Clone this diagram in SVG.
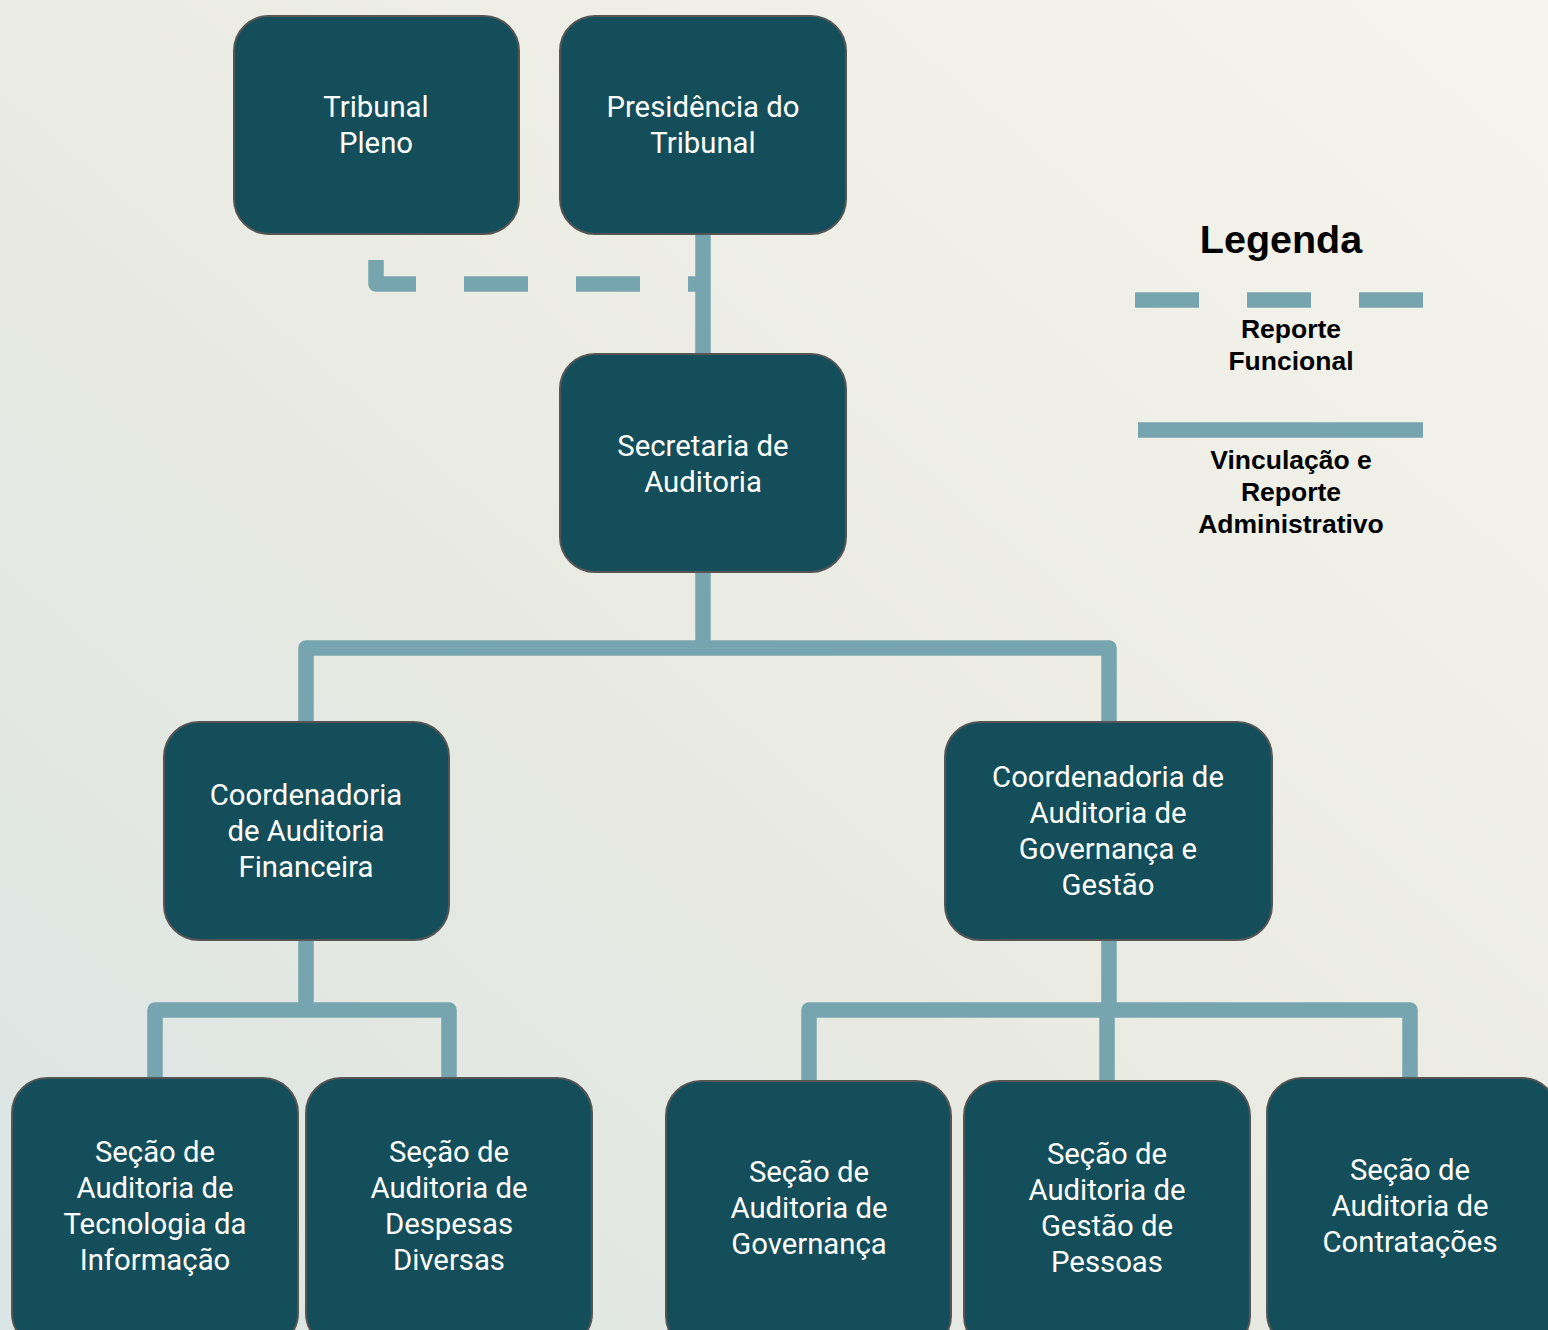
<svg xmlns="http://www.w3.org/2000/svg" width="1548" height="1330" viewBox="0 0 1548 1330">
<defs>
<linearGradient id="bg" x1="1" y1="0" x2="0" y2="1">
<stop offset="0" stop-color="#f5f5ee"/>
<stop offset="0.55" stop-color="#e9eae1"/>
<stop offset="1" stop-color="#dbe5e5"/>
</linearGradient>
<style>
.node{fill:#144e5a;stroke:#555;stroke-width:2}
.nt{font-family:Roboto,"Liberation Sans",sans-serif;font-size:29.3px;fill:#fff;text-anchor:middle}
.ln{fill:none;stroke:#76a5b0;stroke-width:15.5;stroke-linejoin:round;stroke-linecap:butt}
.dash{stroke-dasharray:64 48}
.lg{font-family:"Liberation Sans",Arial,sans-serif;font-weight:bold;fill:#000;text-anchor:middle}
</style>
</defs>
<rect width="1548" height="1330" fill="url(#bg)"/>
<g id="connectors">
<path class="ln dash" d="M376 260 V284 H703"/>
<path class="ln" d="M703 234 V354"/>
<path class="ln" d="M703 572 V648"/>
<path class="ln" d="M306 722 V648 H1109 V722"/>
<path class="ln" d="M306 940 V1010"/>
<path class="ln" d="M155 1078 V1010 H449 V1078"/>
<path class="ln" d="M1109 940 V1010"/>
<path class="ln" d="M809 1081 V1010 H1410 V1078"/>
<path class="ln" d="M1107 1010 V1081"/>
</g>
<g id="tribunal-pleno"><rect class="node" x="234" y="16" width="285" height="218" rx="35"/><text class="nt" x="376"><tspan x="376" y="117">Tribunal</tspan><tspan x="376" y="153">Pleno</tspan></text></g>
<g id="presidencia"><rect class="node" x="560" y="16" width="286" height="218" rx="35"/><text class="nt"><tspan x="703" y="117">Presidência do</tspan><tspan x="703" y="153">Tribunal</tspan></text></g>
<g id="secretaria"><rect class="node" x="560" y="354" width="286" height="218" rx="35"/><text class="nt"><tspan x="703" y="456">Secretaria de</tspan><tspan x="703" y="492">Auditoria</tspan></text></g>
<g id="coord-financeira"><rect class="node" x="164" y="722" width="285" height="218" rx="35"/><text class="nt"><tspan x="306" y="805">Coordenadoria</tspan><tspan x="306" y="841">de Auditoria</tspan><tspan x="306" y="877">Financeira</tspan></text></g>
<g id="coord-governanca"><rect class="node" x="945" y="722" width="327" height="218" rx="35"/><text class="nt"><tspan x="1108" y="787">Coordenadoria de</tspan><tspan x="1108" y="823">Auditoria de</tspan><tspan x="1108" y="859">Governança e</tspan><tspan x="1108" y="895">Gestão</tspan></text></g>
<g id="secao-ti"><rect class="node" x="12" y="1078" width="286" height="270" rx="35"/><text class="nt"><tspan x="155" y="1162">Seção de</tspan><tspan x="155" y="1198">Auditoria de</tspan><tspan x="155" y="1234">Tecnologia da</tspan><tspan x="155" y="1270">Informação</tspan></text></g>
<g id="secao-despesas"><rect class="node" x="306" y="1078" width="286" height="270" rx="35"/><text class="nt"><tspan x="449" y="1162">Seção de</tspan><tspan x="449" y="1198">Auditoria de</tspan><tspan x="449" y="1234">Despesas</tspan><tspan x="449" y="1270">Diversas</tspan></text></g>
<g id="secao-governanca"><rect class="node" x="666" y="1081" width="285" height="270" rx="35"/><text class="nt"><tspan x="809" y="1182">Seção de</tspan><tspan x="809" y="1218">Auditoria de</tspan><tspan x="809" y="1254">Governança</tspan></text></g>
<g id="secao-pessoas"><rect class="node" x="964" y="1081" width="286" height="270" rx="35"/><text class="nt"><tspan x="1107" y="1164">Seção de</tspan><tspan x="1107" y="1200">Auditoria de</tspan><tspan x="1107" y="1236">Gestão de</tspan><tspan x="1107" y="1272">Pessoas</tspan></text></g>
<g id="secao-contratacoes"><rect class="node" x="1267" y="1078" width="290" height="270" rx="35"/><text class="nt"><tspan x="1410" y="1180">Seção de</tspan><tspan x="1410" y="1216">Auditoria de</tspan><tspan x="1410" y="1252">Contratações</tspan></text></g>
<g id="legenda">
<text class="lg" x="1281" y="253" font-size="39.5">Legenda</text>
<path class="ln dash" d="M1135 300 H1423"/>
<text class="lg" font-size="26.5"><tspan x="1291" y="338">Reporte</tspan><tspan x="1291" y="370">Funcional</tspan></text>
<path class="ln" d="M1138 430 H1423"/>
<text class="lg" font-size="26.5"><tspan x="1291" y="469">Vinculação e</tspan><tspan x="1291" y="501">Reporte</tspan><tspan x="1291" y="533">Administrativo</tspan></text>
</g>
</svg>
